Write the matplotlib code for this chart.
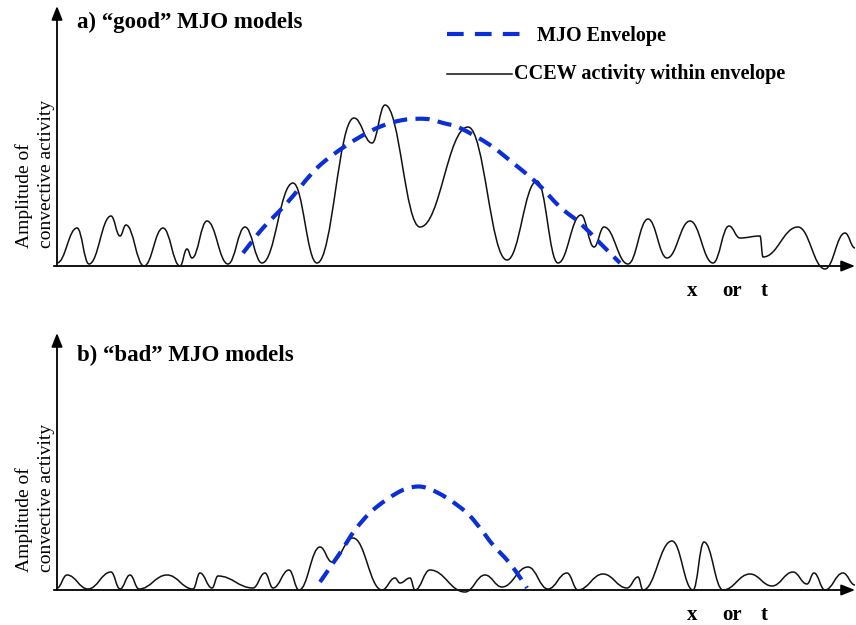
import numpy as np
import matplotlib
matplotlib.use("Agg")
import matplotlib.pyplot as plt
from matplotlib.path import Path
from matplotlib.patches import PathPatch

# ---------------- data ----------------
# panel a: CCEW activity (position, amplitude) at turning points
a_x = [57, 77, 89, 111, 120, 126, 144, 163, 180, 187, 192, 207, 228, 245, 262,
       293, 317, 354, 372, 385, 420, 468, 507, 537, 558, 581, 594, 604, 628,
       648, 667, 690, 713, 729, 740, 760, 763, 798, 825, 845, 855]
a_y = [3, 38, 2, 50, 30, 41, 0, 38, 0, 17, 8, 45, 2, 39, 3,
       83, 3, 148, 123, 161, 39, 139, 6, 85, 3, 51, 19, 39, 2,
       47, 8, 45, 3, 40, 28, 30, 9, 39, -3, 33, 18]
# panel a: MJO envelope
a_env_x = [243, 263, 287, 317, 347, 377, 403, 427, 443, 460, 490, 513, 537,
           560, 580, 600, 620]
a_env_y = [13, 38, 63, 98, 121, 138, 146, 147, 143, 138, 121, 103, 83,
           59, 43, 23, 3]

# panel b: CCEW activity
b_x = [57, 67, 88, 111, 120, 130, 139, 167, 193, 200, 212, 218, 253, 265, 273,
       289, 299, 320, 332, 353, 382, 395, 400, 410, 415, 430, 465, 485, 502,
       528, 548, 567, 578, 603, 627, 638, 643, 672, 693, 704, 723, 750, 772,
       793, 807, 814, 825, 843, 855]
b_y = [2, 15, 1, 18, 1, 15, 1, 15, 1, 17, 2, 14, 2, 17, 2,
       20, 0, 43, 28, 52, 0, 12, 7, 12, 0, 20, -2, 15, 3,
       23, 1, 17, 0, 16, 2, 13, 0, 49, 0, 48, 0, 16, 4,
       18, 6, 17, 0, 17, 5]
# panel b: MJO envelope
b_env_x = [320, 340, 355, 373, 397, 413, 427, 447, 467, 480, 493, 507, 517, 527]
b_env_y = [8, 37, 60, 80, 97, 103, 102, 92, 77, 62, 45, 30, 17, 2]

titles = ["a) \u201cgood\u201d MJO models", "b) \u201cbad\u201d MJO models"]
ylabel = "Amplitude of\nconvective activity"
legend_labels = ["MJO Envelope", "CCEW activity within envelope"]
xlab_parts = ["x", "or", "t"]

# ---------------- style ----------------
BLUE = "#0a2fd8"
SERIF = ["Liberation Serif", "DejaVu Serif"]
plt.rcParams["font.family"] = SERIF


def wave_path(xs, ys, k=0.42):
    """Smooth path through turning points (horizontal tangents)."""
    verts = [(xs[0], ys[0])]
    codes = [Path.MOVETO]
    for i in range(len(xs) - 1):
        x0, y0, x1, y1 = xs[i], ys[i], xs[i + 1], ys[i + 1]
        dx = x1 - x0
        verts += [(x0 + k * dx, y0), (x1 - k * dx, y1), (x1, y1)]
        codes += [Path.CURVE4] * 3
    return Path(verts, codes)


def smooth_path(xs, ys):
    """Catmull-Rom spline through points, as Bezier segments."""
    P = list(zip(xs, ys))
    P = [P[0]] + P + [P[-1]]
    verts = [P[1]]
    codes = [Path.MOVETO]
    for i in range(1, len(P) - 2):
        p0, p1, p2, p3 = (np.array(P[j], float) for j in (i - 1, i, i + 1, i + 2))
        c1 = p1 + (p2 - p0) / 6.0
        c2 = p2 - (p3 - p1) / 6.0
        verts += [tuple(c1), tuple(c2), tuple(p2)]
        codes += [Path.CURVE4] * 3
    return Path(verts, codes)


W, H = 856, 625
fig = plt.figure(figsize=(W / 100, H / 100), dpi=100)

panels = [
    dict(base=266, top=6, title_py=22, x=a_x, y=a_y, ex=a_env_x, ey=a_env_y,
         title=titles[0], legend=True),
    dict(base=590, top=333, title_py=355, x=b_x, y=b_y, ex=b_env_x, ey=b_env_y,
         title=titles[1], legend=False),
]

for p in panels:
    x0, x1 = 57, 855
    base = p["base"]
    h = base - p["top"]
    ax = fig.add_axes([x0 / W, (H - base) / H, (x1 - x0) / W, h / H])
    ax.set_xlim(x0, x1)
    ax.set_ylim(0, h)
    ax.axis("off")

    # axes arrows
    arrow = dict(arrowstyle="-|>,head_length=0.55,head_width=0.22", lw=1.3,
                 color="black", shrinkA=0, shrinkB=0, mutation_scale=15)
    ax.annotate("", xy=(0, 1), xytext=(0, 0), xycoords="axes fraction",
                arrowprops=arrow, annotation_clip=False)
    ax.annotate("", xy=(1, 0), xytext=(-0.004, 0), xycoords="axes fraction",
                arrowprops=arrow, annotation_clip=False)

    # CCEW wave
    ax.add_patch(PathPatch(wave_path(p["x"], p["y"]), fill=False, lw=1.1,
                           edgecolor="#111111", clip_on=False, zorder=3))
    # MJO envelope
    ax.add_patch(PathPatch(smooth_path(p["ex"], p["ey"]), fill=False, lw=3.0,
                           edgecolor=BLUE, linestyle=(0, (3.4, 2.0)),
                           capstyle="butt", clip_on=False, zorder=4))

    # title
    ax.text(77, base - p["title_py"], p["title"], fontsize=16.5,
            fontweight="bold", ha="left", va="center", clip_on=False)

    # y label
    ax.text(35, 18, ylabel, rotation=90, fontsize=14, ha="center", va="bottom",
            multialignment="left", linespacing=1.38, clip_on=False)

    # x label
    for s, xx in zip(xlab_parts, [692, 732, 764]):
        ax.text(xx, -25, s, fontsize=15, fontweight="bold", ha="center",
                va="center", clip_on=False)

    if p["legend"]:
        ax.plot([447, 522], [base - 34, base - 34], color=BLUE, lw=3.0,
                linestyle=(0, (4.0, 2.7)), solid_capstyle="butt",
                dash_capstyle="butt", clip_on=False)
        ax.text(537, base - 36, legend_labels[0], fontsize=14.5,
                fontweight="bold", ha="left", va="center", clip_on=False)
        ax.plot([447, 512], [base - 74, base - 74], color="#111111", lw=1.1,
                clip_on=False)
        ax.text(514, base - 74, legend_labels[1], fontsize=14.5,
                fontweight="bold", ha="left", va="center", clip_on=False)

fig.savefig("out.png", dpi=100, facecolor="white")
